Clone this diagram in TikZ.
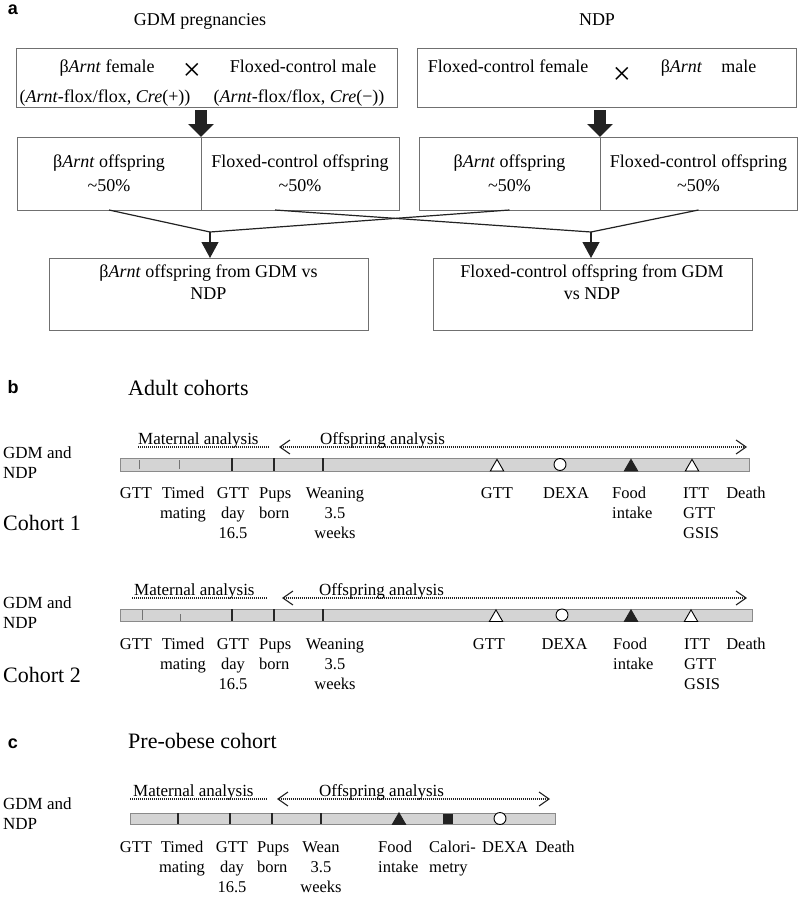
\documentclass[tikz,border=0pt]{standalone}
\usepackage{fontspec}
\setmainfont{Liberation Serif}
\newfontfamily\panelfont{Liberation Sans}
\usetikzlibrary{arrows.meta,shapes.geometric,calc}
\definecolor{boxgray}{HTML}{707070}
\definecolor{ink}{HTML}{222222}
\definecolor{barfill}{HTML}{D4D4D4}
\definecolor{barline}{HTML}{8A8A8A}
\begin{document}
\begin{tikzpicture}[x=1pt,y=-1pt,
  box/.style={draw=boxgray,line width=0.9pt,rectangle,inner sep=0pt,outer sep=0pt},
  ta/.style={font=\fontsize{18}{22}\selectfont,inner sep=0pt},
  crossmark/.style={font=\fontsize{32}{32}\selectfont,inner sep=0pt},
  mid/.style={box,minimum height=73pt,align=center,font=\fontsize{18}{24}\selectfont},
  conn/.style={draw=ink,line width=1.2pt},
  blockarrow/.style={draw=ink,line width=12pt,-{Triangle[width=25pt,length=13pt]}},
  downarrow/.style={conn,-{Triangle[width=17pt,length=16pt]}},
  panel/.style={font=\panelfont\bfseries\fontsize{18}{18}\selectfont,inner sep=0pt,anchor=base},
  head/.style={font=\fontsize{22}{26}\selectfont,inner sep=0pt,anchor=base west},
  lab/.style={font=\fontsize{16.5}{20}\selectfont,inner sep=0pt,align=center,anchor=north},
  labl/.style={lab,align=left,anchor=north west},
  side/.style={font=\fontsize{17}{20}\selectfont,inner sep=0pt,align=left,anchor=west},
  cohort/.style={font=\fontsize{22}{26}\selectfont,inner sep=0pt,anchor=west},
  ana/.style={font=\fontsize{17}{20}\selectfont,inner sep=0pt,anchor=base west},
  bar/.style={rectangle,draw=barline,fill=barfill,line width=0.9pt,inner sep=0pt,outer sep=0pt,anchor=north west},
  thintick/.style={draw=black!55,line width=0.6pt},
  tick/.style={draw=black!85,line width=1.1pt},
  dotl/.style={draw=ink,line width=1.2pt,dash pattern=on 1pt off 1pt},
  span/.style={dotl,{Straight Barb[length=10pt,width=14pt,line width=1.1pt]}-{Straight Barb[length=10pt,width=14pt,line width=1.1pt]}},
  otri/.style={regular polygon,regular polygon sides=3,minimum size=15.5pt,inner sep=0pt,outer sep=0pt,draw=black,line width=0.9pt,fill=white,anchor=south},
  ftri/.style={otri,fill=ink,draw=ink},
  ocirc/.style={circle,minimum size=12pt,inner sep=0pt,outer sep=0pt,draw=black,line width=0.9pt,fill=white},
  fsq/.style={rectangle,minimum size=10pt,inner sep=0pt,outer sep=0pt,fill=ink}
]
\useasboundingbox (0,0) rectangle (800,899);

% ---------------- panel a ----------------
\node[panel] (pa) at (13,15) {a};
\node[ta,anchor=base] (hgdm) at (200,26) {GDM pregnancies};
\node[ta,anchor=base] (hndp) at (597,26) {NDP};

\node[box,minimum width=381pt,minimum height=59pt] (tl) at (206.5,77.5) {};
\node[ta,anchor=base] (tl1) at (107,73) {β\textit{Arnt} female};
\node[crossmark] (tlx) at (192,72) {×};
\node[ta,anchor=base] (tl2) at (303,73) {Floxed-control male};
\node[ta,anchor=base] (tl3) at (105,102) {(\textit{Arnt}-flox/flox, \textit{Cre}(+))};
\node[ta,anchor=base] (tl4) at (299,102) {(\textit{Arnt}-flox/flox, \textit{Cre}(−))};

\node[box,minimum width=379pt,minimum height=59pt] (tr) at (606.5,77.5) {};
\node[ta,anchor=base] (tr1) at (508,73) {Floxed-control female};
\node[crossmark] (trx) at (622,76) {×};
\node[ta,anchor=base] (tr2) at (708.5,73) {β\textit{Arnt}\hspace{19pt}male};

\node[mid,minimum width=184pt] (mll) at (109,173.5) {β\textit{Arnt} offspring\\\textasciitilde50\%};
\node[mid,minimum width=198pt] (mlr) at (300,173.5) {Floxed-control offspring\\\textasciitilde50\%};
\node[mid,minimum width=181pt] (mrl) at (509.5,173.5) {β\textit{Arnt} offspring\\\textasciitilde50\%};
\node[mid,minimum width=197pt] (mrr) at (698.5,173.5) {Floxed-control offspring\\\textasciitilde50\%};

\draw[blockarrow] ($(tl.south -| mll.east)+(0,3)$) -- (mll.north east);
\draw[blockarrow] ($(tr.south -| mrl.east)+(0,3)$) -- (mrl.north east);

\node[box,minimum width=319pt,minimum height=72pt] (bl) at (208.5,294) {};
\node[ta,align=center,anchor=north] (blt) at (208.5,265) {β\textit{Arnt} offspring from GDM vs\\NDP};
\node[box,minimum width=319pt,minimum height=72pt] (br) at (592.5,294) {};
\node[ta,align=center,anchor=north] (brt) at (592,265) {Floxed-control offspring from GDM\\vs NDP};

\coordinate (jl) at (210,232);
\coordinate (jr) at (591,232);
\draw[conn] (mll.south) -- (jl);
\draw[conn] (mrl.south) -- (jl);
\draw[conn] ($(mlr.south)+(-25,0)$) -- (jr);
\draw[conn] (mrr.south) -- (jr);
\draw[downarrow] (jl) -- (jl |- bl.north);
\draw[downarrow] (jr) -- (jr |- br.north);

% ---------------- panel b ----------------
\node[panel] (pb) at (13,393) {b};
\node[head] (hb) at (128,395) {Adult cohorts};

% cohort 1
\begin{scope}[shift={(0,458)}]
\node[bar,minimum width=629pt,minimum height=13pt] (bar1) at (120,0) {};
\draw[thintick] (139,2) -- (139,11);
\draw[thintick] (179,2) -- (179,11);
\draw[tick] (232,0) -- (232,13);
\draw[tick] (274,0) -- (274,13);
\draw[tick] (323,0) -- (323,13);
\node[otri] (c1m1) at (497,13) {};
\node[ocirc] (c1m2) at (560,6.5) {};
\node[ftri] (c1m3) at (631,13) {};
\node[otri] (c1m4) at (692,13) {};
\draw[dotl] (138,-11) -- (270,-11);
\draw[span] (279,-11) -- (747,-11);
\node[ana] (c1ma) at (138,-14) {Maternal analysis};
\node[ana] (c1oa) at (320,-14) {Offspring analysis};
\node[side] (c1g) at (3,5) {GDM and\\NDP};
\node[cohort] (c1c) at (3,65) {Cohort 1};
\node[lab] (c1l1) at (136,29) {GTT};
\node[lab] (c1l2) at (183,29) {Timed\\mating};
\node[lab] (c1l3) at (233,29) {GTT\\day\\16.5};
\node[labl] (c1l4) at (259,29) {Pups\\born};
\node[lab] (c1l5) at (335,29) {Weaning\\3.5\\weeks};
\node[lab] (c1l6) at (497,29) {GTT};
\node[lab] (c1l7) at (566,29) {DEXA};
\node[labl] (c1l8) at (612,29) {Food\\intake};
\node[labl] (c1l9) at (683,29) {ITT\\GTT\\GSIS};
\node[lab] (c1l10) at (746,29) {Death};
\end{scope}

% cohort 2
\begin{scope}[shift={(0,609)}]
\node[bar,minimum width=632pt,minimum height=12pt] (bar2) at (120,0) {};
\draw[thintick] (142,1) -- (142,11);
\draw[thintick] (180,5) -- (180,12);
\draw[tick] (232,0) -- (232,12);
\draw[tick] (274,0) -- (274,12);
\draw[tick] (323,0) -- (323,12);
\node[otri] (c2m1) at (496,12.5) {};
\node[ocirc] (c2m2) at (562,6) {};
\node[ftri] (c2m3) at (631,12.5) {};
\node[otri] (c2m4) at (691,12.5) {};
\draw[dotl] (132,-11) -- (268,-11);
\draw[span] (282,-11) -- (747,-11);
\node[ana] (c2ma) at (134,-14) {Maternal analysis};
\node[ana] (c2oa) at (319,-14) {Offspring analysis};
\node[side] (c2g) at (3,4) {GDM and\\NDP};
\node[cohort] (c2c) at (3,66) {Cohort 2};
\node[lab] (c2l1) at (136,29) {GTT};
\node[lab] (c2l2) at (183,29) {Timed\\mating};
\node[lab] (c2l3) at (233,29) {GTT\\day\\16.5};
\node[labl] (c2l4) at (259,29) {Pups\\born};
\node[lab] (c2l5) at (335,29) {Weaning\\3.5\\weeks};
\node[lab] (c2l6) at (489,29) {GTT};
\node[lab] (c2l7) at (564.5,29) {DEXA};
\node[labl] (c2l8) at (613,29) {Food\\intake};
\node[labl] (c2l9) at (684,29) {ITT\\GTT\\GSIS};
\node[lab] (c2l10) at (746,29) {Death};
\end{scope}

% ---------------- panel c ----------------
\node[panel] (pc) at (13,748) {c};
\node[head] (hc) at (128,748) {Pre-obese cohort};

\begin{scope}[shift={(0,813)}]
\node[bar,minimum width=425pt,minimum height=11pt] (bar3) at (130,0) {};
\draw[tick] (178,0) -- (178,11);
\draw[tick] (230,0) -- (230,11);
\draw[tick] (272,0) -- (272,11);
\draw[tick] (321,0) -- (321,11);
\node[ftri] (c3m1) at (399,11.5) {};
\node[fsq] (c3m2) at (448,5.5) {};
\node[ocirc] (c3m3) at (500,5.5) {};
\draw[dotl] (130,-14) -- (268,-14);
\draw[span] (277,-14) -- (550,-14);
\node[ana] (c3ma) at (133,-17) {Maternal analysis};
\node[ana] (c3oa) at (319,-17) {Offspring analysis};
\node[side] (c3g) at (3,1) {GDM and\\NDP};
\node[lab] (c3l1) at (136,28) {GTT};
\node[lab] (c3l2) at (182,28) {Timed\\mating};
\node[lab] (c3l3) at (232,28) {GTT\\day\\16.5};
\node[labl] (c3l4) at (257,28) {Pups\\born};
\node[lab] (c3l5) at (321,28) {Wean\\3.5\\weeks};
\node[labl] (c3l6) at (378,28) {Food\\intake};
\node[labl] (c3l7) at (429,28) {Calori-\\metry};
\node[lab] (c3l8) at (505,28) {DEXA};
\node[lab] (c3l9) at (555,28) {Death};
\end{scope}
\end{tikzpicture}
\end{document}
